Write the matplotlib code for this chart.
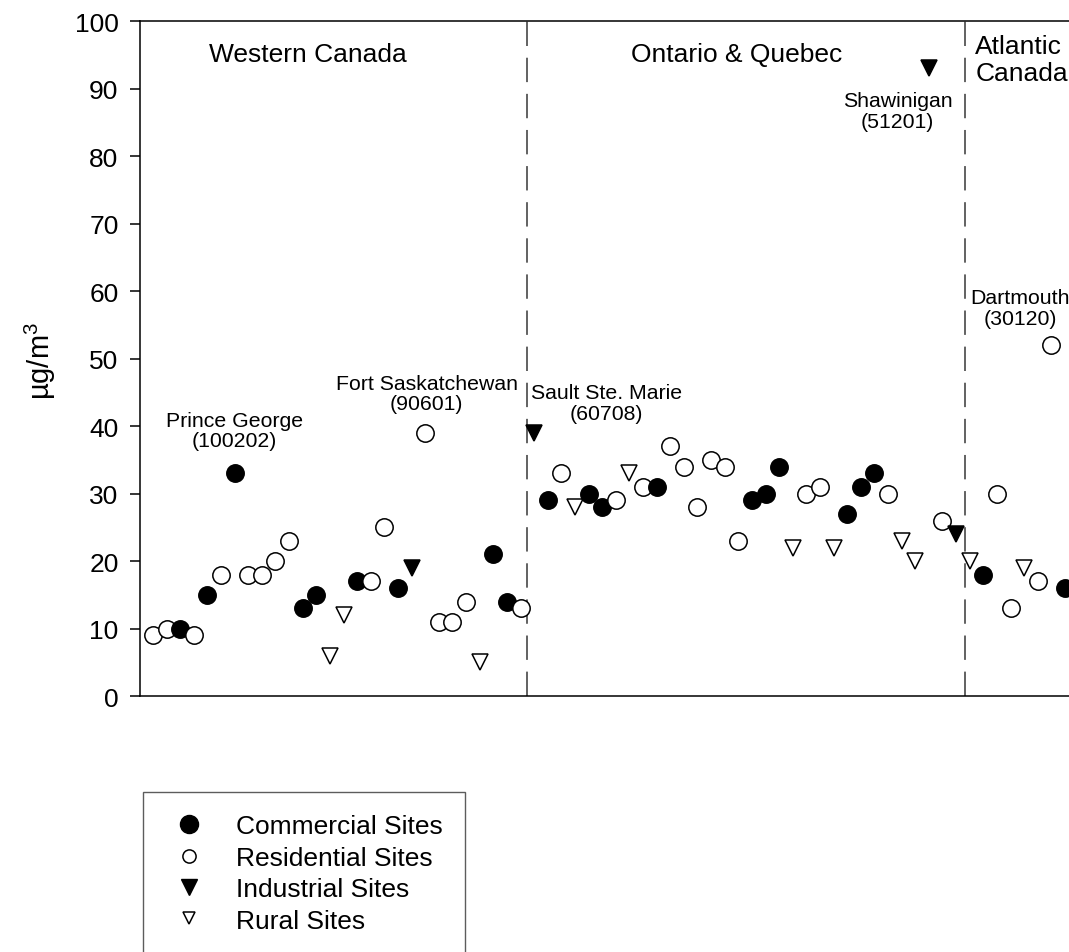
import matplotlib
matplotlib.use('Agg')
import matplotlib.pyplot as plt
from matplotlib.lines import Line2D

plt.rcParams['font.family'] = ['Liberation Sans', 'DejaVu Sans']
plt.rcParams['mathtext.default'] = 'regular'

# site type per monitoring station, in plotted order (C=commercial, R=residential, I=industrial, U=rural)
site_type = ['R', 'R', 'C', 'R', 'C', 'R', 'C', 'R', 'R', 'R', 'R', 'C', 'C', 'U', 'U', 'C',
             'R', 'R', 'C', 'I', 'R', 'R', 'R', 'R', 'U', 'C', 'C', 'R',
             'I', 'C', 'R', 'U', 'C', 'C', 'R', 'U', 'R', 'C', 'R', 'R', 'R', 'R', 'R', 'R',
             'C', 'C', 'C', 'U', 'R', 'R', 'U', 'C', 'C', 'C', 'R', 'U', 'U', 'I', 'R', 'I',
             'U', 'C', 'R', 'R', 'U', 'R', 'R', 'C']
concentration = [9, 10, 10, 9, 15, 18, 33, 18, 18, 20, 23, 13, 15, 6, 12, 17,
                 17, 25, 16, 19, 39, 11, 11, 14, 5, 21, 14, 13,
                 39, 29, 33, 28, 30, 28, 29, 33, 31, 31, 37, 34, 28, 35, 34, 23,
                 29, 30, 34, 22, 30, 31, 22, 27, 31, 33, 30, 23, 20, 93, 26, 24,
                 20, 18, 30, 13, 19, 17, 52, 16]

region_breaks = [27.5, 59.65]
region_names = ['Western Canada', 'Ontario & Quebec', 'Atlantic\nCanada']
region_label_x = [11.4, 42.9, 60.4]

site_labels = ['Prince George\n(100202)', 'Fort Saskatchewan\n(90601)', 'Sault Ste. Marie\n(60708)',
               'Shawinigan\n(51201)', 'Dartmouth\n(30120)']
site_label_pos = [(6.0, 39.3), (20.1, 44.8), (33.3, 43.4), (54.7, 86.7), (63.7, 57.5)]

styles = {
    'C': dict(marker='o', mfc='black', mec='black', ms=12.5),
    'R': dict(marker='o', mfc='white', mec='black', ms=12.5),
    'I': dict(marker='v', mfc='black', mec='black', ms=11.5),
    'U': dict(marker='v', mfc='white', mec='black', ms=11.5),
}

fig = plt.figure(figsize=(10.69, 9.53), dpi=100)
ax = fig.add_axes([0.131, 0.2686, 0.878, 0.7083])

for i, (t, v) in enumerate(zip(site_type, concentration)):
    ax.plot(i, v, linestyle='none', mew=1.1, zorder=3 + i * 0.01, clip_on=False, **styles[t])

for xb in region_breaks:
    ax.axvline(xb, color='#555555', lw=1.3, dashes=(13.5, 6.5), zorder=2)

for name, xr in zip(region_names, region_label_x):
    if '\n' in name:
        ax.text(xr, 94.3, name, ha='left', va='center', fontsize=19, linespacing=1.2)
    else:
        ax.text(xr, 95.1, name, ha='center', va='center', fontsize=19)

for lab, (xl, yl) in zip(site_labels, site_label_pos):
    ax.text(xl, yl, lab, ha='center', va='center', fontsize=15.3, linespacing=1.1)

ax.set_xlim(-0.95, 68)
ax.set_ylim(0, 100)
ax.set_yticks(range(0, 101, 10))
ax.set_xticks([])
ax.tick_params(axis='y', direction='out', length=7, width=1.1, labelsize=19, pad=8.5)
for s in ['left', 'top', 'bottom']:
    ax.spines[s].set_linewidth(1.1)
ax.spines['right'].set_visible(False)

fig.text(40 / 1069, 1 - 361 / 953, 'µg/m$^3$', rotation=90, ha='center', va='center', fontsize=21)

handles = [
    Line2D([], [], linestyle='none', marker='o', mfc='black', mec='black', ms=13),
    Line2D([], [], linestyle='none', marker='o', mfc='white', mec='black', ms=9.5, mew=1.1),
    Line2D([], [], linestyle='none', marker='v', mfc='black', mec='black', ms=11),
    Line2D([], [], linestyle='none', marker='v', mfc='white', mec='black', ms=8.5, mew=1.1),
]
labels = ['Commercial Sites', 'Residential Sites', 'Industrial Sites', 'Rural Sites']
leg = fig.legend(handles, labels, loc='upper left', bbox_to_anchor=(143 / 1069, 1 - 793 / 953),
                 bbox_transform=fig.transFigure, fontsize=19, frameon=True, fancybox=False,
                 borderpad=0.85, handlelength=1.8, handletextpad=0.86, labelspacing=0.28,
                 borderaxespad=0)
leg.get_frame().set_edgecolor('#333333')
leg.get_frame().set_linewidth(1.0)

fig.savefig('out.png', dpi=100)
